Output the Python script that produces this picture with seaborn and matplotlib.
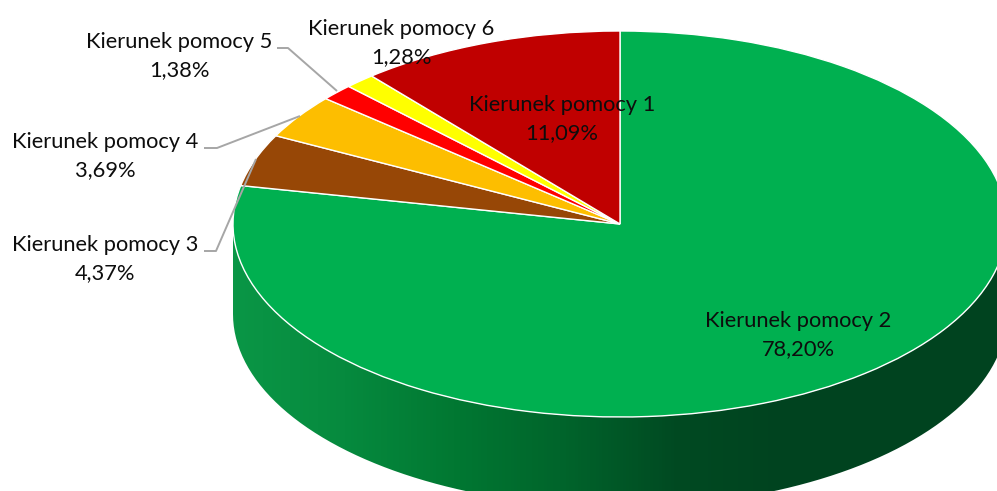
import numpy as np
import matplotlib.pyplot as plt
import seaborn as sns
from matplotlib.path import Path
from matplotlib.patches import PathPatch

categories = ["Kierunek pomocy 2", "Kierunek pomocy 3", "Kierunek pomocy 4",
              "Kierunek pomocy 5", "Kierunek pomocy 6", "Kierunek pomocy 1"]
shares = [78.20, 4.37, 3.69, 1.38, 1.28, 11.09]
slice_colors = ["#00b050", "#974706", "#fdbe00", "#ff0000", "#ffff00", "#c00000"]

# side wall shading, left to right
wall_colors = ["#0a9646", "#068a3e", "#017832", "#00642b", "#004a22", "#00431f", "#00431f", "#00431f"]

W, H = 997, 491
CX, CY, RX, RY = 620, 224, 387, 193
DEPTH = 90

# label centre in pixels, one per category
label_pos = [(798, 335), (105, 259), (105, 156), (179, 56), (401, 43), (562, 119)]
leaders = {
    "Kierunek pomocy 5": [(277, 48), (288, 48), (337, 91)],
    "Kierunek pomocy 4": [(204, 148), (217, 148), (300, 116)],
    "Kierunek pomocy 3": [(204, 251), (216, 251), (256, 159)],
}

sns.set_theme(style="white")
plt.rcParams["font.family"] = ["Lato", "DejaVu Sans"]

fig = plt.figure(figsize=(W / 100, H / 100), dpi=100)
fig.patch.set_facecolor("white")

# pie axes: unit circle squashed to the ellipse of the top face
ax = fig.add_axes([0, 0, 1, 1])
ax.pie(shares, colors=slice_colors, startangle=90, counterclock=False, radius=1,
       wedgeprops={"edgecolor": "white", "linewidth": 1.0})
ax.set_aspect("auto")
x0, x1 = (0 - CX) / RX, (W - CX) / RX
y0, y1 = (CY - H) / RY, CY / RY
ax.set_xlim(x0, x1)
ax.set_ylim(y0, y1)
ax.axis("off")

# side wall, below the pie
t = np.linspace(np.pi, 2 * np.pi, 200)
d = DEPTH / RY
top = np.column_stack([np.cos(t), np.sin(t)])
bottom = top[::-1] + [0, -d]
wall = Path(np.vstack([top, bottom, top[:1]]))
cmap = sns.blend_palette(wall_colors, n_colors=256, as_cmap=True)
img = ax.imshow(np.linspace(0, 1, 256)[None, :], cmap=cmap, aspect="auto", zorder=0,
                extent=(-1, 1, y0, 0))
ax.set_xlim(x0, x1)
ax.set_ylim(y0, y1)
img.set_clip_path(PathPatch(wall, transform=ax.transData))

# labels and leader lines in pixel coordinates
over = fig.add_axes([0, 0, 1, 1])
over.set_xlim(0, W)
over.set_ylim(H, 0)
over.axis("off")

for name, points in leaders.items():
    xs, ys = zip(*points)
    over.plot(xs, ys, color="#a6a6a6", lw=1.4, solid_capstyle="butt")

for name, share, (lx, ly) in zip(categories, shares, label_pos):
    txt = f"{name}\n{share:.2f}%".replace(".", ",")
    over.text(lx, ly, txt, ha="center", va="center", fontsize=15.75,
              color="#0d0d0d", linespacing=1.5)

fig.savefig("out.png", dpi=100)
plt.close(fig)
